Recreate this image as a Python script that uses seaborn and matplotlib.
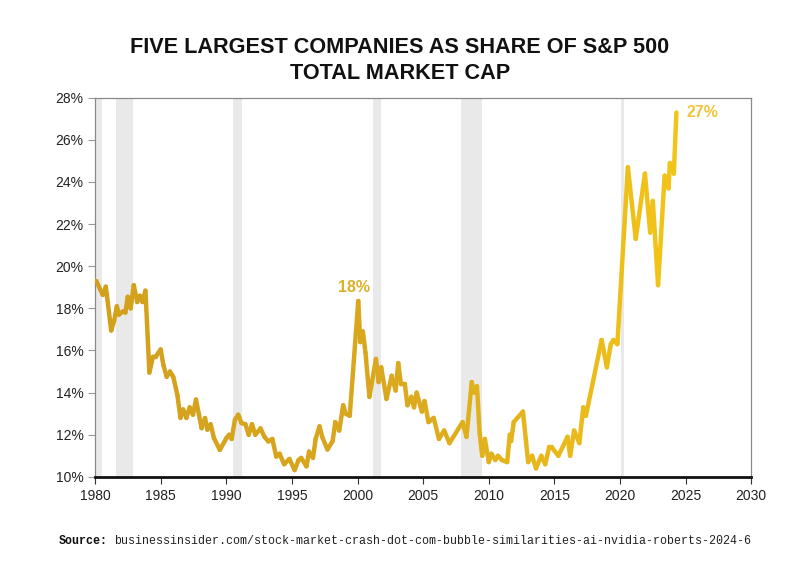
import numpy as np
import pandas as pd
import matplotlib
matplotlib.use("Agg")
import matplotlib.pyplot as plt
import seaborn as sns
from matplotlib.collections import LineCollection
from matplotlib.colors import LinearSegmentedColormap

# ---------------- data ----------------
years = [
    1980.0, 1980.08, 1980.38, 1980.58, 1980.81, 1981.22, 1981.44, 1981.65, 1981.8, 1982.1,
    1982.3, 1982.48, 1982.7, 1982.94, 1983.2, 1983.4, 1983.6, 1983.83, 1984.13, 1984.4,
    1984.6, 1984.99, 1985.2, 1985.45, 1985.7, 1985.95, 1986.26, 1986.5, 1986.7, 1986.95,
    1987.2, 1987.45, 1987.68, 1987.91, 1988.11, 1988.37, 1988.55, 1988.8, 1989.05, 1989.5,
    1990.0, 1990.2, 1990.4, 1990.65, 1990.9, 1991.15, 1991.45, 1991.7, 1991.95, 1992.2,
    1992.6, 1992.9, 1993.2, 1993.5, 1993.8, 1994.05, 1994.4, 1994.8, 1995.2, 1995.5,
    1995.7, 1996.1, 1996.3, 1996.6, 1996.8, 1997.1, 1997.3, 1997.7, 1998.1, 1998.3,
    1998.6, 1998.9, 1999.1, 1999.4, 2000.05, 2000.2, 2000.4, 2000.6, 2000.9, 2001.4,
    2001.6, 2001.8, 2002.2, 2002.6, 2002.9, 2003.1, 2003.3, 2003.6, 2003.8, 2004.1,
    2004.3, 2004.5, 2004.9, 2005.1, 2005.4, 2005.8, 2006.2, 2006.6, 2007.0, 2008.0,
    2008.3, 2008.7, 2008.9, 2009.1, 2009.3, 2009.5, 2009.7, 2010.0, 2010.2, 2010.5,
    2010.7, 2011.0, 2011.4, 2011.6, 2011.7, 2011.9, 2012.6, 2013.0, 2013.3, 2013.6,
    2014.0, 2014.3, 2014.6, 2014.8, 2015.3, 2016.0, 2016.2, 2016.5, 2016.9, 2017.2,
    2017.4, 2018.6, 2019.0, 2019.3, 2019.5, 2019.8, 2020.6, 2021.2, 2021.9, 2022.3,
    2022.5, 2022.9, 2023.4, 2023.7, 2023.8, 2024.1, 2024.3,
]
share_pct = [
    19.3, 19.3, 18.9, 18.64, 19.03, 16.95, 17.4, 18.1, 17.7, 17.85,
    17.8, 18.55, 18.0, 19.1, 18.3, 18.6, 18.3, 18.84, 14.95, 15.7,
    15.7, 16.05, 15.3, 14.75, 15.0, 14.75, 13.9, 12.8, 13.2, 12.8,
    13.3, 12.95, 13.67, 12.95, 12.31, 12.79, 12.24, 12.5, 11.84, 11.28,
    11.84, 12.0, 11.8, 12.71, 12.95, 12.55, 12.5, 12.0, 12.5, 12.0,
    12.3, 11.9, 11.68, 11.8, 10.96, 11.1, 10.6, 10.85, 10.32, 10.8,
    10.9, 10.5, 11.2, 10.9, 11.8, 12.4, 11.9, 11.3, 11.7, 12.6,
    12.2, 13.4, 13.0, 12.9, 18.35, 16.4, 16.9, 15.9, 13.8, 15.6,
    14.5, 15.2, 13.7, 14.8, 14.1, 15.4, 14.4, 14.4, 13.4, 13.8,
    13.3, 14.0, 13.1, 13.6, 12.6, 12.8, 11.8, 12.2, 11.6, 12.6,
    11.9, 14.5, 14.0, 14.3, 12.1, 11.0, 11.8, 10.7, 11.1, 10.8,
    11.0, 10.8, 10.7, 12.0, 11.7, 12.6, 13.1, 10.7, 11.0, 10.4,
    11.0, 10.6, 11.4, 11.4, 11.0, 11.9, 11.0, 12.2, 11.6, 13.3,
    12.9, 16.5, 15.2, 16.3, 16.5, 16.3, 24.7, 21.3, 24.4, 21.6,
    23.1, 19.1, 24.3, 23.7, 24.9, 24.4, 27.3,
]
recession_start = [1980.0, 1981.55, 1990.5, 2001.15, 2007.9, 2020.05]
recession_end = [1980.5, 1982.87, 1991.2, 2001.8, 2009.45, 2020.3]

title_text = "FIVE LARGEST COMPANIES AS SHARE OF S&P 500\nTOTAL MARKET CAP"
source_bold = "Source:"
source_url = "businessinsider.com/stock-market-crash-dot-com-bubble-similarities-ai-nvidia-roberts-2024-6"
peak_label = "18%"
last_label = "27%"
x_ticks = [1980, 1985, 1990, 1995, 2000, 2005, 2010, 2015, 2020, 2025, 2030]
y_ticks = [10, 12, 14, 16, 18, 20, 22, 24, 26, 28]

# ---------------- plot ----------------
sns.set_theme(style="white")
plt.rcParams["font.family"] = ["Liberation Sans", "DejaVu Sans"]

df = pd.DataFrame({"year": years, "share": share_pct})

fig = plt.figure(figsize=(8, 5.65), dpi=100)
ax = fig.add_axes([0.119, 0.156, 0.820, 0.671])

for s, e in zip(recession_start, recession_end):
    ax.axvspan(s, e, color="#e9e9e9", lw=0, zorder=0)

sns.lineplot(data=df, x="year", y="share", ax=ax, color="#e0b020", lw=3.2, zorder=3)

# recolour the seaborn line with a gold -> yellow gradient
line = ax.get_lines()[-1]
xy = np.column_stack(line.get_data())
segs = np.stack([xy[:-1], xy[1:]], axis=1)
cmap = LinearSegmentedColormap.from_list("gold", ["#d3a01c", "#d9a81e", "#f3c418"])
lc = LineCollection(segs, cmap=cmap, linewidths=3.2, capstyle="round",
                    joinstyle="round", zorder=3)
lc.set_array((xy[:-1, 0] - 1980) / (2024.3 - 1980))
lc.set_clim(0, 1)
line.remove()
ax.add_collection(lc)

ax.set_xlim(1980, 2030)
ax.set_ylim(10, 28)
ax.set_xticks(x_ticks)
ax.set_yticks(y_ticks)
ax.set_yticklabels([f"{v}%" for v in y_ticks])
ax.set_xlabel("")
ax.set_ylabel("")
ax.tick_params(axis="both", labelsize=10, colors="#222222", length=5,
               width=0.8, direction="out", left=True, bottom=True)
ax.tick_params(axis="y", color="#999999")
ax.tick_params(axis="x", color="#333333")

for side in ["left", "top", "right"]:
    ax.spines[side].set_color("#8a8a8a")
    ax.spines[side].set_linewidth(0.9)
ax.spines["bottom"].set_color("#111111")
ax.spines["bottom"].set_linewidth(2.0)

yr = np.array(years)
sh = np.array(share_pct)
mask = (yr > 1995) & (yr < 2005)
pk = np.where(mask)[0][np.argmax(sh[mask])]
ax.annotate(peak_label, (yr[pk], sh[pk]), xytext=(-3, 4),
            textcoords="offset points", ha="center", va="bottom",
            fontsize=11.5, fontweight="bold", color="#dcb02a")
ax.annotate(last_label, (yr[-1], sh[-1]), xytext=(7, 0),
            textcoords="offset points", ha="left", va="center",
            fontsize=11.5, fontweight="bold", color="#f1c43a")

fig.text(0.5, 0.893, title_text, ha="center", va="center", fontsize=15.6,
         fontweight="bold", color="#111111", linespacing=1.3,
         family=["Liberation Sans Narrow", "Liberation Sans", "DejaVu Sans"])

fig.text(0.074, 0.042, source_bold, ha="left", va="center", fontsize=8.4,
         fontweight="bold", family=["Liberation Mono", "DejaVu Sans Mono"], color="#111111")
fig.text(0.143, 0.042, source_url, ha="left", va="center", fontsize=8.4,
         family=["Liberation Mono", "DejaVu Sans Mono"], color="#222222")

fig.savefig("out.png", dpi=100, facecolor="white")
